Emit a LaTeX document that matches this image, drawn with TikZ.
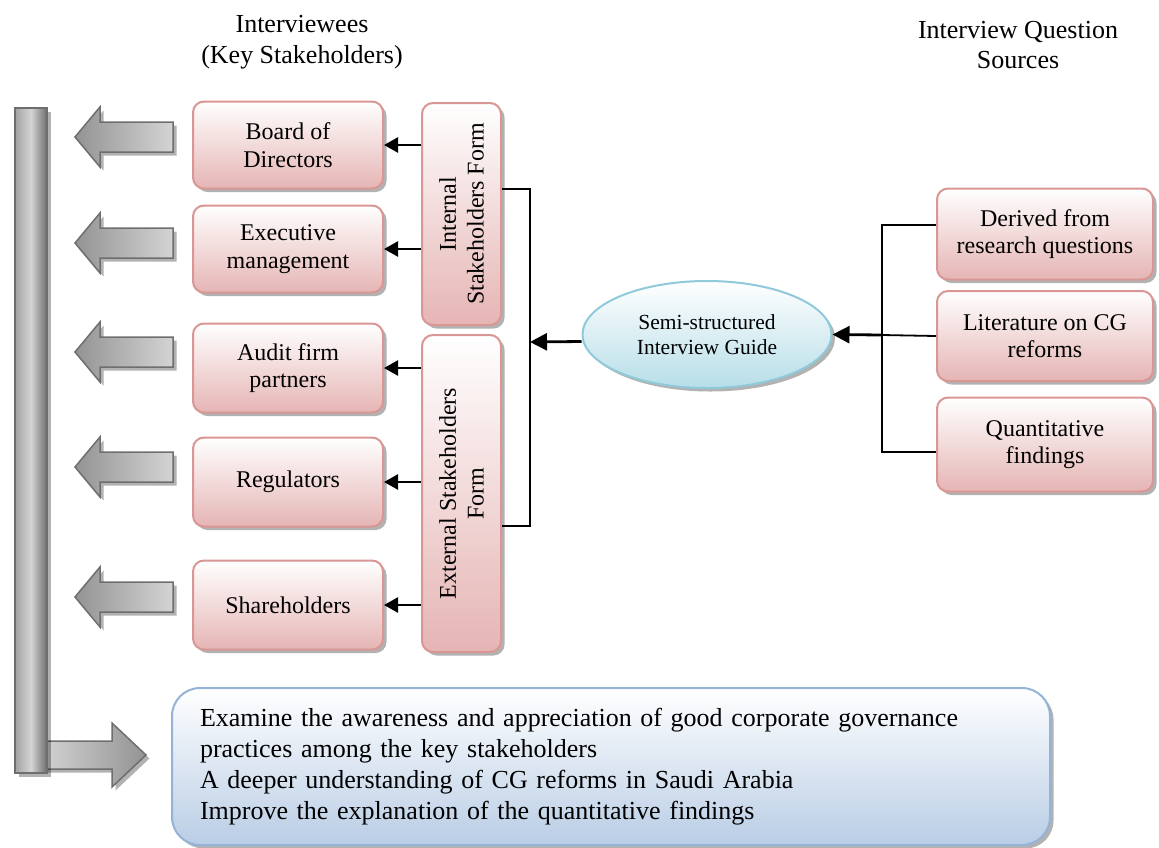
\documentclass[tikz,border=0pt]{standalone}
\usepackage{fontspec}
\setmainfont{Liberation Serif}
\usetikzlibrary{shadows,arrows.meta,calc,shapes.geometric}

\definecolor{pinkedge}{HTML}{D99694}
\definecolor{pinkfill}{HTML}{E5B5B4}
\definecolor{blueedge}{HTML}{95B3D7}
\definecolor{bluefill}{HTML}{B9CDE5}
\definecolor{cyanedge}{HTML}{8FC9DA}
\definecolor{cyanfill}{HTML}{B7DEE8}
\definecolor{greyedge}{HTML}{6E6E6E}
\definecolor{greydark}{HTML}{939393}
\definecolor{greylight}{HTML}{D4D4D4}

\tikzset{
  softshadow/.style={drop shadow={shadow xshift=3.5pt,shadow yshift=-3.5pt,fill=black,opacity=0.3}},
  pinkbox/.style={rectangle,rounded corners=11pt,draw=pinkedge,line width=2pt,
    top color=white,bottom color=pinkfill,softshadow,align=center,
    font=\fontsize{24}{27.6}\selectfont,inner sep=2pt},
  formbox/.style={pinkbox},
  titletext/.style={align=center,font=\fontsize{26}{30.5}\selectfont},
  guidebox/.style={ellipse,draw=cyanedge,line width=2pt,top color=white,bottom color=cyanfill,
    softshadow,align=center,font=\fontsize{21.5}{24.5}\selectfont,inner sep=0pt},
  aimbox/.style={rectangle,rounded corners=28pt,draw=blueedge,line width=2pt,
    top color=white,bottom color=bluefill,softshadow,align=left,
    font=\fontsize{26}{31}\selectfont,inner xsep=28pt},
  link/.style={line width=1.8pt,black},
  formarrow/.style={line width=2.5pt,-{Triangle[length=14pt,width=15pt]}},
  guidearrow/.style={line width=2.8pt,-{Triangle[length=17pt,width=17pt]}},
  greyshape/.style={draw=greyedge,line width=1.5pt,line join=miter,softshadow}
}

% block arrow pointing left, centred vertically on #1
\newcommand\blockleft[1]{%
  \path[greyshape,left color=greydark,right color=greylight]
    (75,#1) -- (100,{#1-30}) -- (100,{#1-15}) -- (173,{#1-15})
    -- (173,{#1+15}) -- (100,{#1+15}) -- (100,{#1+30}) -- cycle;}

\begin{document}
\begin{tikzpicture}[x=1pt,y=-1pt]
\useasboundingbox (0,0) rectangle (1159,847);

% column titles
\node[titletext] (ttleft) at (302,42) {Interviewees\\(Key Stakeholders)};
\node[titletext] (ttright) at (1018,45) {Interview Question\\Sources};

% arrow towards the aims box, then the vertical bar
\path[greyshape,left color=greylight,right color=greydark]
  (40,741) -- (112,741) -- (112,723) -- (146,755) -- (112,787) -- (112,769) -- (40,769) -- cycle;
\path[draw=greyedge,line width=1.5pt,softshadow,left color=greydark!85!white,
      right color=greyedge,middle color=greylight]
  (15,108) rectangle (47,773);

% left-pointing block arrows
\blockleft{137}
\blockleft{243}
\blockleft{352}
\blockleft{467}
\blockleft{597}

% stakeholder boxes
\node[pinkbox,minimum width=190pt,minimum height=87pt] (board) at (288,145) {Board of\\Directors};
\node[pinkbox,minimum width=190pt,minimum height=87pt] (exec) at (288,249) {Executive\\management};
\node[pinkbox,minimum width=190pt,minimum height=89pt] (audit) at (288,368) {Audit firm\\partners};
\node[pinkbox,minimum width=190pt,minimum height=89pt] (regul) at (288,482) {Regulators};
\node[pinkbox,minimum width=190pt,minimum height=89pt] (share) at (288,605) {Shareholders};

% interview forms
\node[formbox,minimum width=79pt,minimum height=222pt] (intf) at (461.5,214) {};
\node[rotate=90,align=center,font=\fontsize{24}{27.6}\selectfont] (intftext) at (intf) {Internal\\Stakeholders Form};
\node[formbox,minimum width=79pt,minimum height=317pt] (extf) at (461.5,493.5) {};
\node[rotate=90,align=center,font=\fontsize{24}{27.6}\selectfont] (extftext) at (extf) {External Stakeholders\\Form};

\draw[formarrow] (intf.west |- board.east) -- (board.east);
\draw[formarrow] (intf.west |- exec.east) -- (exec.east);
\draw[formarrow] (extf.west |- audit.east) -- (audit.east);
\draw[formarrow] (extf.west |- regul.east) -- (regul.east);
\draw[formarrow] (extf.west |- share.east) -- (share.east);

% interview guide
\node[guidebox,minimum width=249pt,minimum height=107pt] (guide) at (707,334.5) {Semi-structured\\Interview Guide};

\coordinate (lj) at (530,342);
\draw[link] ([yshift=25pt]intf.east) -| (lj) |- ([yshift=-32.5pt]extf.east);
\draw[guidearrow] ([yshift=-7pt]guide.west) -- (lj);

% question sources
\node[pinkbox,minimum width=216pt,minimum height=91pt] (derived) at (1045,234) {Derived from\\research questions};
\node[pinkbox,minimum width=216pt,minimum height=90pt] (lit) at (1045,336) {Literature on CG\\reforms};
\node[pinkbox,minimum width=216pt,minimum height=94pt] (quant) at (1045,444.5) {Quantitative\\findings};

\coordinate (rj) at (882,335);
\draw[link] ([yshift=9pt]derived.west) -| (rj) |- ([yshift=-7.5pt]quant.west);
\draw[link] (lit.west) -- (rj);
\draw[guidearrow] (rj) -- (guide.east);

% aims of the interviews
\node[aimbox,minimum width=878pt,minimum height=157pt,text width=822pt] (aims) at (611,766.5)
  {Examine the awareness and appreciation of good corporate governance\\
   practices among the key stakeholders\\
   A deeper understanding of CG reforms in Saudi Arabia\\
   Improve the explanation of the quantitative findings};
\end{tikzpicture}
\end{document}
